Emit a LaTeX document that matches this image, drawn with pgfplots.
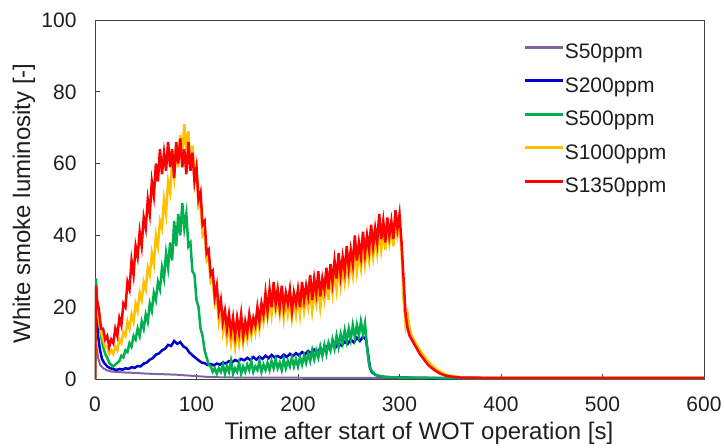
\documentclass[border=0pt]{standalone}
\usepackage{fontspec}
\setmainfont{Liberation Sans}
\usepackage{pgfplots}
\pgfplotsset{compat=1.18}
\definecolor{cS50}{RGB}{128,100,162}
\definecolor{cS200}{RGB}{0,0,204}
\definecolor{cS500}{RGB}{0,176,80}
\definecolor{cS1000}{RGB}{255,192,0}
\definecolor{cS1350}{RGB}{255,0,0}
\definecolor{txt}{RGB}{30,30,30}
\begin{document}
\begin{tikzpicture}
\begin{axis}[
  at={(0,0)}, anchor=south west,
  scale only axis, width=609bp, height=359bp,
  xmin=0, xmax=600, ymin=0, ymax=100,
  xtick={0,100,...,600}, ytick={0,20,...,100},
  tick pos=left, tick align=inside, major tick length=5bp,
  axis line style={draw=black!75, line width=0.8pt},
  tick style={draw=black!75, line width=0.6pt},
  /pgf/number format/assume math mode=true,
  ticklabel style={font=\fontsize{21bp}{24bp}\selectfont, text=txt},
  xticklabel style={yshift=-14bp},
  yticklabel style={xshift=-15bp},
  xlabel={Time after start of WOT operation [s]},
  ylabel={White smoke luminosity [-]},
  label style={font=\fontsize{24bp}{28bp}\selectfont, text=txt},
  x label style={at={(axis description cs:0.532,-0.151)}, anchor=center},
  y label style={at={(axis description cs:-0.1166,0.489)}, anchor=center},
  legend style={draw=none, fill=none, at={(axis description cs:0.6995,0.94)}, anchor=north west,
    font=\fontsize{21bp}{24bp}\selectfont, text=txt,
    nodes={inner sep=0pt, text height=15bp, text depth=4bp}, row sep=14.5bp},
  legend cell align=left,
  legend image code/.code={\draw[#1, line width=2.6pt] (0bp,6bp) -- (38bp,6bp);},
]
\addplot[cS50, line width=2pt] coordinates {(0,0)(1,10)(3,6)(5,4)(8,3)(12,2.4)(16,2.1)(20,2.0)(30,1.8)(40,1.7)(50,1.5)(60,1.4)(70,1.3)(80,1.2)(90,1.0)(100,0.8)(110,0.6)(120,0.5)(140,0.4)(200,0.35)(300,0.3)(600,0.3)};
\addlegendentry{S50ppm}
\addplot[cS200, line width=2.5pt] coordinates {(0,0)(1,20)(3,12)(5,8)(7,5.5)(9,4.5)(12,3.5)(15,3)(18,2.8)(21,2.5)(24,2.8)(27,2.6)(30,3)(33,2.8)(36,3.3)(39,3.1)(42,3.6)(45,3.5)(48,4.3)(51,4.6)(54,5.4)(57,5.8)(60,6.8)(63,7.1)(66,8)(69,8.4)(72,9.5)(75,9.2)(78,10.6)(81,9.8)(84,10.3)(87,9.1)(90,8.6)(93,7.4)(96,6.6)(99,5.9)(102,5.2)(105,4.6)(108,4.4)(111,3.9)(114,4.2)(117,3.8)(120,4.3)(123,4.0)(126,4.6)(129,4.3)(132,5.0)(135,4.6)(138,5.3)(141,4.9)(144,5.6)(147,5.2)(150,5.9)(153,5.3)(156,6.1)(159,5.4)(162,6.2)(165,5.6)(168,6.5)(171,5.8)(174,6.7)(177,6.0)(180,6.4)(183,5.9)(186,6.8)(189,6.1)(192,7.0)(195,6.4)(198,7.2)(201,6.6)(204,7.5)(207,6.9)(210,7.8)(213,7.2)(216,8.2)(219,7.5)(222,8.6)(225,8.0)(228,9.0)(231,8.4)(234,9.5)(237,8.8)(240,9.9)(243,9.3)(246,10.4)(249,9.8)(252,11)(255,10.2)(258,11.5)(261,10.6)(264,11.8)(267,11)(269,7)(271,3)(273,1.8)(276,1.2)(280,0.8)(285,0.6)(290,0.5)(300,0.4)(320,0.3)(340,0.25)(360,0.2)(600,0.2)};
\addlegendentry{S200ppm}
\addplot[cS500, line width=2.5pt] coordinates {(0,0)(1,28)(2,22)(4,17)(6,12)(8,9)(10,7)(12,6)(14,4.5)(16,4)(18,3.5)(20,4)(22,4.5)(24,5)(26,6.5)(28,6)(30,8)(32,7.5)(34,10)(36,9)(38,12)(40,11)(42,14)(44,12)(46,16)(48,14)(50,18)(52,16)(54,21)(56,19)(58,24)(60,22)(62,27)(64,25)(66,31)(68,28)(70,35)(72,31)(74,38)(76,33)(78,44)(80,37)(82,46)(84,40)(86,49)(88,42)(90,46)(92,37)(94,38)(96,30)(98,29)(100,22)(102,20)(104,14)(106,12)(108,8)(110,6)(112,4)(114,3.5)(116,2)(118,3)(120,1.5)(122,3)(124,2)(126,4)(128,1.5)(130,3.5)(132,2)(134,5)(136,1.5)(138,3)(140,2)(142,4.5)(144,1.5)(146,3.5)(148,2)(150,4)(152,2.5)(154,5)(156,2)(158,3.5)(160,2.5)(162,5)(164,2)(166,4)(168,2.5)(170,4.5)(172,2.5)(174,5)(176,3)(178,5.5)(180,3)(182,4.5)(184,2.5)(186,5.5)(188,3)(190,5)(192,3.5)(194,6)(196,3.5)(198,5.5)(200,3.5)(202,6)(204,4)(206,6.5)(208,4.5)(210,7)(212,5)(214,8)(216,5.5)(218,8)(220,6)(222,9)(224,6.5)(226,9.5)(228,7)(230,10)(232,8)(234,11)(236,8.5)(238,12)(240,9)(242,12.5)(244,10)(246,13.5)(248,10.5)(250,14)(252,11)(254,15)(256,11.5)(258,15)(260,12)(262,16)(264,12.5)(266,15.5)(268,9)(270,4)(272,2.5)(274,1.8)(276,1.2)(280,0.9)(285,0.6)(290,0.5)(300,0.4)(330,0.3)(360,0.2)(600,0.2)};
\addlegendentry{S500ppm}
\addplot[cS1000, line width=2.5pt] coordinates {(0,0)(1,24)(2,20)(4,16)(6,13)(8,11)(10,9)(12,9)(14,7)(16,8)(18,7)(20,9)(22,8)(24,11)(26,10)(28,13)(30,12)(32,16)(34,14)(36,18)(38,16)(40,21)(42,19)(44,24)(46,22)(48,27)(50,25)(52,31)(54,29)(56,35)(58,32)(60,40)(62,37)(64,44)(66,42)(68,50)(70,46)(72,55)(74,52)(76,60)(78,56)(80,65)(82,59)(84,68)(86,62)(88,71)(90,64)(92,69)(94,60)(96,65)(98,56)(100,58)(102,48)(104,49)(106,40)(108,41)(110,33)(112,34)(114,27)(116,28)(118,21)(120,23)(122,16)(124,19)(126,13)(128,16)(130,11)(132,15)(134,10)(136,14)(138,9)(140,14)(142,10)(144,15)(146,10)(148,14)(150,11)(152,15)(154,12)(156,16)(158,13)(160,18)(162,14)(164,19)(166,16)(168,21)(170,17)(172,23)(174,18)(176,24)(178,19)(180,22)(182,18)(184,23)(186,17)(188,22)(190,18)(192,22)(194,17)(196,22)(198,18)(200,23)(202,18)(204,24)(206,19)(208,23)(210,20)(212,25)(214,19)(216,24)(218,21)(220,26)(222,20)(224,25)(226,22)(228,28)(230,22)(232,29)(234,24)(236,30)(238,25)(240,31)(242,26)(244,31)(246,27)(248,33)(250,28)(252,33)(254,29)(256,36)(258,30)(260,35)(262,31)(264,38)(266,32)(268,37)(270,33)(272,39)(274,34)(276,39)(278,35)(280,42)(282,36)(284,41)(286,36)(288,43)(290,38)(292,42)(294,37)(296,45)(298,40)(300,43)(302,36)(304,22)(306,15)(308,18)(310,14)(312,12)(314,11)(316,10)(318,9)(320,8)(324,6.5)(328,5)(332,3.8)(336,2.8)(340,2)(345,1.3)(350,0.9)(360,0.5)(380,0.3)(600,0.3)};
\addlegendentry{S1000ppm}
\addplot[cS1350, line width=2.5pt] coordinates {(0,0)(1,26)(2,22)(4,19)(6,14)(8,14)(10,11)(12,12)(14,9)(16,11)(18,10)(20,14)(22,12)(24,17)(26,15)(28,21)(30,20)(32,27)(34,25)(36,33)(38,29)(40,37)(42,34)(44,41)(46,37)(48,45)(50,42)(52,50)(54,46)(56,55)(58,51)(60,60)(62,55)(64,64)(66,57)(68,63)(70,58)(72,66)(74,59)(76,64)(78,56)(80,66)(82,60)(84,67)(86,59)(88,64)(90,57)(92,66)(94,58)(96,63)(98,55)(100,59)(102,50)(104,52)(106,43)(108,44)(110,35)(112,36)(114,29)(116,30)(118,23)(120,26)(122,19)(124,22)(126,16)(128,19)(130,14)(132,18)(134,13)(136,17)(138,12)(140,17)(142,13)(144,18)(146,12)(148,16)(150,13)(152,18)(154,14)(156,17)(158,15)(160,20)(162,16)(164,21)(166,18)(168,24)(170,19)(172,25)(174,20)(176,27)(178,21)(180,25)(182,20)(184,26)(186,20)(188,24)(190,21)(192,25)(194,19)(196,24)(198,21)(200,25)(202,20)(204,27)(206,22)(208,26)(210,23)(212,29)(214,22)(216,28)(218,24)(220,30)(222,23)(224,28)(226,25)(228,31)(230,25)(232,32)(234,27)(236,33)(238,28)(240,35)(242,29)(244,34)(246,30)(248,37)(250,31)(252,36)(254,32)(256,40)(258,33)(260,38)(262,34)(264,41)(266,35)(268,40)(270,36)(272,43)(274,37)(276,42)(278,38)(280,46)(282,39)(284,44)(286,38)(288,45)(290,40)(292,44)(294,39)(296,47)(298,42)(300,46)(302,38)(304,28)(306,18)(308,14)(310,12)(312,11)(314,10)(316,9)(318,8)(320,7)(324,5.5)(328,4)(332,3)(336,2.2)(340,1.5)(345,1)(350,0.7)(360,0.4)(400,0.3)(500,0.3)(600,0.3)};
\addlegendentry{S1350ppm}
\end{axis}
\pgfresetboundingbox
\path (-95bp,-69bp) rectangle (629bp,379bp);
\end{tikzpicture}
\end{document}
